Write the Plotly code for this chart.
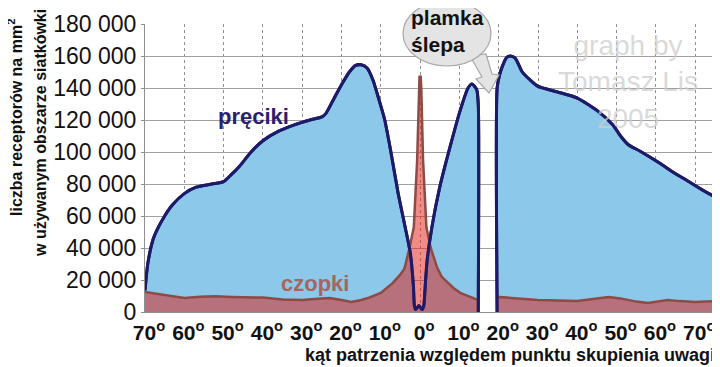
import plotly.graph_objects as go

# ---------------- data ----------------
rods_left_x = [-70, -69.3, -68, -67, -65, -63, -60, -57, -53, -50, -48, -46, -43, -40, -36, -32, -28, -25, -24,
               -22, -20, -18, -16.5, -15, -13.5, -12, -10.5, -9, -7.5, -5.6, -3.8, -2.5, -1.7, -1.45, -1.1,
               -0.3, 0.5, 0.9, 1.4, 1.8, 3, 5, 7.6, 10.2, 12.2, 13.2, 14.4, 14.8, 14.8]
rods_left_y = [13500, 30000, 45000, 51000, 60000, 67000, 74000, 78000, 80000, 81500, 86000, 91000, 100000,
               107000, 113000, 117000, 120000, 122000, 124000, 133000, 142000, 150000, 154000, 154500, 152500,
               145000, 133000, 120000, 101000, 74400, 53000, 37000, 16000, 4000, 1500, 4000, 1500, 3500, 20000,
               32500, 53000, 78000, 103000, 126000, 140000, 142500, 139000, 130000, 0]

rods_right_x = [19.6, 19.6, 20.2, 21, 22, 23, 24.2, 26, 28, 30, 35, 40, 45, 49, 51, 53, 56, 61, 64, 68, 72, 75.8]
rods_right_y = [0, 140000, 148000, 154000, 159000, 160000, 158700, 150000, 145000, 141000, 137500, 133700,
                126000, 117000, 110000, 104500, 100500, 93000, 88000, 82000, 76000, 71000]

cones_left_x = [-70, -66, -62, -60, -56, -52, -48, -44, -40, -35, -30, -26, -23, -20, -17.5, -15, -13, -10,
                -7, -5, -4, -2.7, -1.6, -0.75, -0.3, -0.15, 0.15, 0.3, 0.75, 1.6, 2.7, 4.3, 5.5, 7, 8.5,
                10.2, 12.5, 14.8, 14.8]
cones_left_y = [12500, 11000, 9500, 8800, 9500, 9800, 9400, 9300, 9000, 7800, 7500, 8300, 8800, 7500, 6300,
                7500, 9000, 11900, 18000, 23500, 27000, 40000, 53000, 95000, 140000, 147000, 147000, 140000,
                95000, 53000, 40000, 28000, 22000, 18500, 15000, 12000, 9500, 7500, 0]

cones_right_x = [19.6, 19.6, 22, 25, 30, 35, 40, 45, 48, 51, 55, 58, 61, 63, 66, 70, 75.8]
cones_right_y = [0, 9400, 9000, 8500, 7500, 7200, 6900, 8500, 9400, 8500, 6500, 5600, 6800, 7500, 6800,
                 6300, 6900]

x_tick_vals = [-70, -60, -50, -40, -30, -20, -10, 0, 10, 20, 30, 40, 50, 60, 70]
x_tick_text = ["70", "60", "50", "40", "30", "20", "10", "0", "10", "20", "30", "40", "50", "60", "70"]
y_tick_vals = [0, 20000, 40000, 60000, 80000, 100000, 120000, 140000, 160000, 180000]
y_tick_text = ["0", "20 000", "40 000", "60 000", "80 000", "100 000", "120 000", "140 000", "160 000",
               "180 000"]

# ---------------- style ----------------
FONT = "Arial, Liberation Sans, Helvetica, sans-serif"
ROD_LINE = "#1e1a6a"
ROD_FILL = "#8cc8ea"
CONE_LINE = "#8e4a44"
CONE_FILL = "rgba(225,25,15,0.5)"

OFF = 8  # default page body margin
PAGE_W, PAGE_H = 720, 367
W, H = PAGE_W - OFF, PAGE_H - OFF
PL, PT = 145, 24          # plot area origin in page pixels
PW, PH = 573, 288         # plot area size
L, T = PL - OFF, PT - OFF
R = W - L - PW
B = H - T - PH


def px(xp):
    return (xp - PL) / PW


def py(yp):
    return (PT + PH - yp) / PH


fig = go.Figure()
SPL = dict(shape="spline", smoothing=0.6)

for xs, ys in [(rods_left_x, rods_left_y), (rods_right_x, rods_right_y)]:
    fig.add_trace(go.Scatter(x=xs, y=ys, mode="lines", fill="tozeroy", fillcolor=ROD_FILL,
                             line=dict(color=ROD_LINE, width=3, **SPL), hoverinfo="skip", showlegend=False))
for xs, ys in [(cones_left_x, cones_left_y), (cones_right_x, cones_right_y)]:
    fig.add_trace(go.Scatter(x=xs, y=ys, mode="lines", fill="tozeroy", fillcolor=CONE_FILL,
                             line=dict(color=CONE_LINE, width=2.5, shape="linear"), hoverinfo="skip",
                             showlegend=False))
for xs, ys in [(rods_left_x, rods_left_y), (rods_right_x, rods_right_y)]:
    fig.add_trace(go.Scatter(x=xs, y=ys, mode="lines",
                             line=dict(color=ROD_LINE, width=3, **SPL), hoverinfo="skip", showlegend=False))

fig.update_xaxes(range=[-70, 75.8], tickvals=x_tick_vals, automargin=False,
                 ticktext=["<b>%s<sup>o</sup></b>" % t for t in x_tick_text],
                 tickfont=dict(family=FONT, size=21, color="#111"), ticklabelshift=4, ticklabelstandoff=2,
                 showgrid=True, gridcolor="#909090", griddash="dot", gridwidth=1,
                 showline=True, linecolor="#909090", zeroline=False, ticks="")
fig.update_yaxes(range=[0, 180000], tickvals=y_tick_vals, ticktext=y_tick_text, automargin=False,
                 tickfont=dict(family=FONT, size=23, color="#111"),
                 showgrid=True, gridcolor="#a0a0a0", gridwidth=1,
                 showline=True, linecolor="#909090", zeroline=False,
                 ticks="outside", ticklen=3, tickcolor="#909090")

# speech bubble
tail = [(470, 56), (486, 54), (492, 74), (499, 75), (489, 93), (476, 79), (482, 77), (470, 56)]
path = "M " + " L ".join("%f,%f" % (px(a), py(b)) for a, b in tail) + " Z"
shapes = [
    dict(type="path", path=path, xref="paper", yref="paper", fillcolor="#e4e4e4",
         line=dict(color="#a8a8a8", width=1.2), layer="above"),
    dict(type="circle", xref="paper", yref="paper", x0=px(403), x1=px(491), y0=py(66), y1=py(1),
         fillcolor="#e4e4e4", line=dict(color="#a8a8a8", width=1.2), layer="above"),
]

annotations = [
    dict(text="<b>pręciki</b>", x=-42.5, y=121900, xref="x", yref="y", showarrow=False,
         xanchor="center", yanchor="middle",
         font=dict(family=FONT, size=22, color="#2a1f6e")),
    dict(text="<b>czopki</b>", x=-26.7, y=18100, xref="x", yref="y", showarrow=False,
         xanchor="center", yanchor="middle",
         font=dict(family=FONT, size=22, color="#a8645f")),
    dict(text="<b>plamka<br>ślepa</b>", x=px(409), y=py(31), xref="paper", yref="paper",
         xanchor="left", yanchor="middle", align="left", showarrow=False,
         font=dict(family=FONT, size=21, color="#111")),
    dict(text="graph by<br>Tomasz Lis<br>2005", x=px(628), y=py(82), xref="paper", yref="paper",
         xanchor="center", yanchor="middle",
         showarrow=False, align="center", font=dict(family=FONT, size=28, color="rgba(205,205,205,0.75)")),
    dict(text="<b>liczba receptorów na mm<sup>2</sup></b>", x=px(15), y=py(118), xref="paper", yref="paper",
         textangle=-90, xanchor="center", yanchor="middle", showarrow=False,
         font=dict(family=FONT, size=16, color="#111")),
    dict(text="<b>w używanym obszarze siatkówki</b>", x=px(40), y=py(133), xref="paper", yref="paper",
         textangle=-90, xanchor="center", yanchor="middle", showarrow=False,
         font=dict(family=FONT, size=16, color="#111")),
    dict(text="<b>kąt patrzenia względem punktu skupienia uwagi</b>", x=px(717), y=py(355), xref="paper",
         yref="paper", xanchor="right", yanchor="middle", showarrow=False,
         font=dict(family=FONT, size=18, color="#111")),
]

fig.update_layout(width=W, height=H, margin=dict(l=L, r=R, t=T, b=B),
                  paper_bgcolor="white", plot_bgcolor="white",
                  shapes=shapes, annotations=annotations, showlegend=False)

fig.write_html("out.html")
